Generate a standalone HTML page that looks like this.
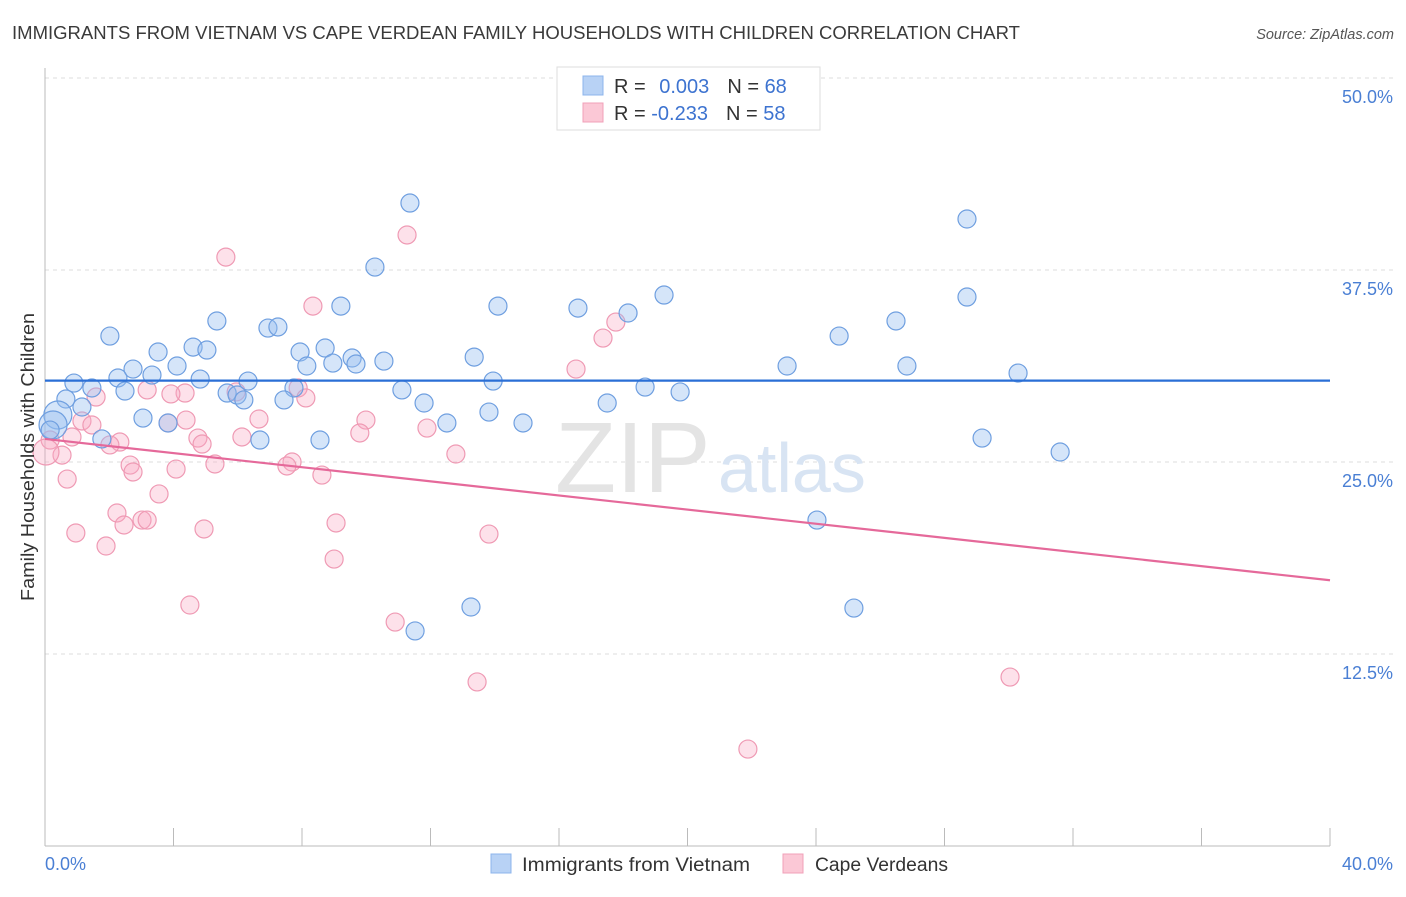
<!DOCTYPE html>
<html><head><meta charset="utf-8"><style>
body{margin:0;background:#fff;font-family:"Liberation Sans",sans-serif;}
svg text{font-family:"Liberation Sans",sans-serif;}
</style></head><body>
<svg id="chart" width="1406" height="892" xmlns="http://www.w3.org/2000/svg">
<text x="12" y="39" font-size="18" fill="#3a3a3a" textLength="1008" lengthAdjust="spacingAndGlyphs">IMMIGRANTS FROM VIETNAM VS CAPE VERDEAN FAMILY HOUSEHOLDS WITH CHILDREN CORRELATION CHART</text>
<text x="1394" y="39" font-size="14.5" fill="#555" text-anchor="end" font-style="italic">Source: ZipAtlas.com</text>
<g id="grid"></g>
<text x="555" y="492" font-size="100" fill="#e4e4e4" font-family="Liberation Serif">ZIP</text>
<text x="718" y="492" font-size="70" fill="#d8e4f3">atlas</text>
<g id="pts"></g>
<g id="lines"></g>
<text transform="translate(34,457) rotate(-90)" font-size="18" fill="#333" text-anchor="middle" textLength="288" lengthAdjust="spacingAndGlyphs">Family Households with Children</text>
<text x="45" y="870" font-size="18" fill="#4a7fd4">0.0%</text>
<text x="1393" y="870" font-size="18" fill="#4a7fd4" text-anchor="end">40.0%</text>
<g>
<rect x="557" y="67" width="263" height="63" fill="#fff" stroke="#ddd"/>
<rect x="583" y="76" width="20" height="19" fill="#b8d2f5" stroke="#8cb4ec"/>
<rect x="583" y="103" width="20" height="19" fill="#fbc8d6" stroke="#f0a0b8"/>
<text x="614" y="93" font-size="20" fill="#333">R = <tspan fill="#3d73d0" dx="8">0.003</tspan><tspan dx="18" fill="#333">N = </tspan><tspan fill="#3d73d0">68</tspan></text>
<text x="614" y="120" font-size="20" fill="#333">R = <tspan fill="#3d73d0">-0.233</tspan><tspan dx="18" fill="#333">N = </tspan><tspan fill="#3d73d0">58</tspan></text>
</g>
<g>
<rect x="491" y="854" width="20" height="19" fill="#b8d2f5" stroke="#8cb4ec"/>
<text x="522" y="871" font-size="19" fill="#333" textLength="228" lengthAdjust="spacingAndGlyphs">Immigrants from Vietnam</text>
<rect x="783" y="854" width="20" height="19" fill="#fbc8d6" stroke="#f0a0b8"/>
<text x="815" y="871" font-size="19" fill="#333" textLength="133" lengthAdjust="spacingAndGlyphs">Cape Verdeans</text>
</g>
</svg>
<script>
const yTicks=[12.5,25,37.5,50];
const yTickLabels=["12.5%","25.0%","37.5%","50.0%"];
const xTicks=[0,4,8,12,16,20,24,28,32,36,40];
const blueX=[11.36,28.70,10.27,19.27,28.70,9.21,14.10,16.59,18.15,5.35,26.49,6.94,7.25,2.02,24.72,8.72,4.61,5.04,3.52,7.94,9.56,13.36,10.55,8.15,8.96,9.68,4.11,23.10,26.83,2.74,3.33,2.27,30.29,0.90,4.83,6.32,13.95,1.46,2.49,5.67,7.75,5.98,11.11,18.68,19.77,0.65,6.19,7.44,11.80,17.50,1.15,0.40,13.82,3.05,3.83,12.51,14.88,0.25,0.16,1.77,6.69,8.56,29.17,31.60,24.03,13.26,25.18,11.52];
const blueY=[41.86,40.82,37.69,35.87,35.74,35.15,35.15,35.02,34.70,34.18,34.18,33.72,33.79,33.20,33.20,32.42,32.48,32.29,32.16,32.16,31.77,31.83,31.57,31.25,31.44,31.38,31.25,31.25,31.25,31.05,30.66,30.47,30.79,30.14,30.40,30.27,30.27,29.82,29.62,29.49,29.82,29.36,29.69,29.88,29.56,29.10,29.04,29.04,28.84,28.84,28.58,28.06,28.25,27.86,27.54,27.54,27.54,27.41,27.08,26.50,26.43,26.43,26.56,25.65,21.22,15.56,15.49,14.00];
const pinkX=[11.27,5.63,8.34,17.77,17.37,16.53,7.88,3.18,4.36,3.92,5.95,1.59,8.12,3.83,4.39,9.99,1.15,6.66,1.46,11.89,9.80,0.84,2.33,6.13,4.76,0.16,2.02,4.89,0.53,0.03,12.79,2.65,7.69,5.29,2.74,4.08,7.53,8.62,0.69,3.55,2.24,3.02,3.18,2.46,9.06,4.95,0.96,13.82,1.90,9.00,4.51,10.90,13.45,30.04,21.88];
const pinkY=[39.78,38.34,35.15,34.11,33.07,31.05,29.82,29.69,29.49,29.43,29.56,29.23,29.17,27.54,27.73,27.73,27.67,27.80,27.41,27.21,26.89,26.63,26.30,26.63,26.56,26.43,26.11,26.17,25.45,25.65,25.52,24.80,25.00,24.87,24.35,24.54,24.74,24.15,23.89,22.92,21.68,21.22,21.22,20.90,21.03,20.64,20.38,20.31,19.53,18.68,15.69,14.58,10.68,11.00,6.31];
const blueTrend=[30.3,30.3];
const pinkTrend=[26.5,17.3];
const NS="http://www.w3.org/2000/svg";
const X0=45,X1=1330,Y0=846,Y50=78;
const sx=v=>X0+(v/40)*(X1-X0);
const sy=v=>Y0-(v/50)*(Y0-Y50);
function mk(tag,attrs,parent){const e=document.createElementNS(NS,tag);for(const k in attrs)e.setAttribute(k,attrs[k]);parent.appendChild(e);return e;}
const grid=document.getElementById('grid');
yTicks.forEach((t,i)=>{
 const l=mk('line',{x1:X0,x2:1393,y1:sy(t),y2:sy(t),stroke:'#ddd','stroke-dasharray':'4,4'},grid);
 
 
 const tx=mk('text',{x:1393,y:sy(t)+25,'font-size':18,fill:'#4a7fd4','text-anchor':'end'},grid);
 tx.textContent=yTickLabels[i];
 
 
});
const ax=mk('line',{x1:X0,x2:X0,y1:68,y2:Y0,stroke:'#bbb'},grid);


const bx=mk('line',{x1:X0,x2:X1,y1:Y0,y2:Y0,stroke:'#bbb'},grid);


xTicks.forEach(t=>{
 const l=mk('line',{x1:sx(t),x2:sx(t),y1:828,y2:Y0,stroke:'#bbb'},grid);
 
 
});
const pts=document.getElementById('pts');
pinkX.forEach((v,i)=>{
 const c=mk('circle',{cx:sx(v),cy:sy(pinkY[i]),r:(i===29?13:9),fill:'rgba(248,170,195,0.35)',stroke:'#ef9ab4','stroke-width':1.2},pts);
 
 
});
blueX.forEach((v,i)=>{
 const big=(i===51||i===57);
 const c=mk('circle',{cx:sx(v),cy:sy(blueY[i]),r:(big?14:9),fill:'rgba(150,190,240,0.4)',stroke:'#6f9fe0','stroke-width':1.2},pts);
 
 
});
const lines=document.getElementById('lines');
const bl=mk('line',{x1:sx(0),x2:sx(40),y1:sy(blueTrend[0]),y2:sy(blueTrend[1]),stroke:'#2a6fd6','stroke-width':2.2},lines);


const pl=mk('line',{x1:sx(0),x2:sx(40),y1:sy(pinkTrend[0]),y2:sy(pinkTrend[1]),stroke:'#e5699a','stroke-width':2.2},lines);


</script>
</body></html>
